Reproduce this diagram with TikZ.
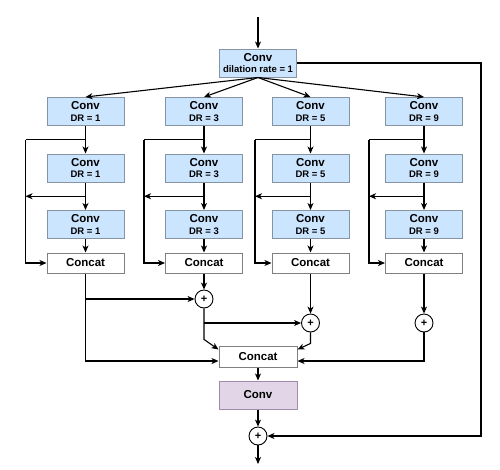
\documentclass[tikz,border=0pt]{standalone}
\usepackage{fontspec}
\setmainfont{Liberation Sans}
\usepackage{tikz}
\usetikzlibrary{shapes.geometric, arrows.meta}
\usetikzlibrary{calc}
\usepackage{color}

\definecolor{convblue}{HTML}{CCE5FF}
\definecolor{convedge}{HTML}{8593A3}
\definecolor{catedge}{HTML}{808080}
\definecolor{outpurple}{HTML}{E1D5E7}
\definecolor{outedge}{HTML}{A08CAA}

\newcommand{\smalllbl}{\fontsize{9.5}{10}\selectfont}

\tikzset{
    block/.style={draw=convedge, fill=convblue, line width=1pt, minimum width=77pt,
        minimum height=28pt, inner sep=0pt, align=center,
        font=\bfseries\fontsize{11.5}{12.5}\selectfont},
    catbox/.style={block, draw=catedge, fill=white, minimum height=20pt},
    addop/.style={circle, draw, fill=white, line width=0.9pt, minimum size=18pt,
        inner sep=0pt, font=\bfseries\fontsize{11}{11}\selectfont},
    flow/.style={line width=1.1pt, -{Stealth[length=7pt,width=6pt,inset=2pt]}},
    wire/.style={line width=1.1pt}
}

\begin{document}
\begin{tikzpicture}[x=1pt,y=-1pt]
    \useasboundingbox (0,0) rectangle (500,469);

    % input and first conv
    \coordinate (in) at (258,17);
    \node[block] (top) at (258,63) {Conv\\[-1pt]{\smalllbl dilation rate = 1}};
    \draw[flow] (in) -- (top);

    % four dilated branches
    \foreach \c/\x/\l/\d in {1/85.5/25.5/1, 2/204/144/3, 3/310.5/255/5, 4/424/369/9}{
        \node[block] (b\c a) at (\x,111.5) {Conv\\[-1pt]{\smalllbl DR = \d}};
        \node[block] (b\c b) at (\x,168) {Conv\\[-1pt]{\smalllbl DR = \d}};
        \node[block] (b\c c) at (\x,224.5) {Conv\\[-1pt]{\smalllbl DR = \d}};
        \node[catbox] (cat\c) at (\x,263) {Concat};

        \coordinate (k\c) at ($(b\c a.south)!0.5!(b\c b.north)$);
        \coordinate (m\c) at ($(b\c b.south)!0.5!(b\c c.north)$);
        \coordinate (l\c) at (\l,0 |- k\c);

        \draw[flow] (top.south) -- (b\c a.north);
        \draw[flow] (b\c a) -- (b\c b);
        \draw[flow] (b\c b) -- (b\c c);
        \draw[flow] (b\c c) -- (cat\c);
        \draw[wire] (k\c) -- (l\c);
        \draw[flow] (l\c) |- (cat\c.west);
        \draw[flow] (m\c) -- (m\c -| l\c);
    }

    % merging
    \node[addop] (p1) at (204,299) {+};
    \node[addop] (p2) at (310.5,323) {+};
    \node[addop] (p3) at (424,323) {+};
    \node[catbox, minimum width=78pt, minimum height=21pt] (fcat) at (258,356.5) {Concat};
    \node[block, fill=outpurple, draw=outedge, minimum width=78pt] (fconv) at (258,395) {Conv};
    \node[addop] (p4) at (258,436) {+};

    \coordinate (fcat in) at ([yshift=-4.5pt]fcat.west);
    \coordinate (fcat out) at ([yshift=-4.5pt]fcat.east);
    \coordinate (skip) at (481,0 |- top.east);
    \coordinate (out) at (258,464);

    \draw[flow] (cat2) -- (p1);
    \draw[flow] (cat3) -- (p2);
    \draw[flow] (cat4) -- (p3);
    \draw[flow] (cat1.south) |- (fcat in);
    \draw[flow] (cat1.south |- p1) -- (p1.west);
    \draw[flow] (p1.south) -- ++(0,31) -- ([yshift=-4pt]fcat.north west);
    \draw[flow] (p1.south |- p2) -- (p2.west);
    \draw[flow] (p2.south) -- ++(0,11) -- ([yshift=-4pt]fcat.north east);
    \draw[flow] (p3.south) |- (fcat out);

    \draw[flow] (fcat) -- (fconv);
    \draw[flow] (fconv) -- (p4);
    \draw[flow] (top.east) -- (skip) |- (p4.east);
    \draw[flow] (p4) -- (out);

\end{tikzpicture}
\end{document}
